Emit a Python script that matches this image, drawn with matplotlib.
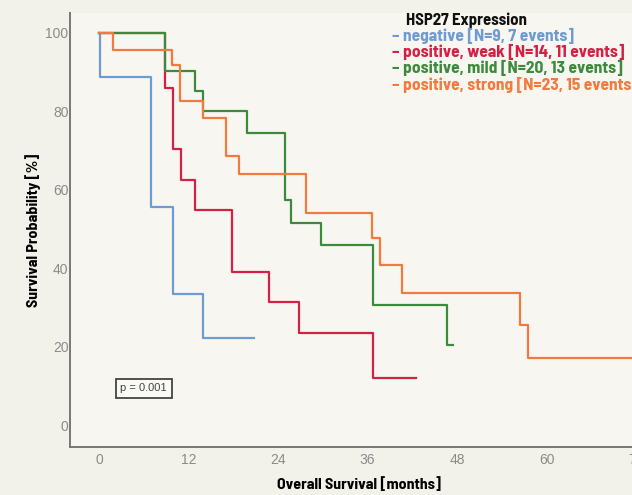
import matplotlib
matplotlib.use("Agg")
import matplotlib.pyplot as plt

# Kaplan-Meier steps (months, survival %)
neg_t = [0, 0.1, 7.0, 9.9, 13.9, 20.8]
neg_s = [100, 88.9, 55.6, 33.5, 22.3, 22.3]

weak_t = [0, 8.9, 9.9, 11.0, 12.9, 17.8, 22.8, 26.8, 36.7, 42.5]
weak_s = [100, 85.9, 70.4, 62.6, 54.8, 39.1, 31.5, 23.5, 12.0, 12.0]

mild_t = [0, 8.9, 12.9, 13.9, 19.8, 24.9, 25.8, 29.8, 36.7, 46.6, 47.5]
mild_s = [100, 90.2, 85.2, 80.2, 74.5, 57.5, 51.6, 45.9, 30.6, 20.4, 20.4]

strong_t = [0, 1.9, 9.8, 10.8, 13.9, 17.0, 18.8, 27.8, 36.6, 37.7, 40.6, 56.5, 57.5, 76]
strong_s = [100, 95.7, 91.8, 82.6, 78.2, 68.6, 64.1, 54.2, 47.6, 40.8, 33.8, 25.5, 17.0, 17.0]

labels = [
    "negative [N=9, 7 events]",
    "positive, weak [N=14, 11 events]",
    "positive, mild [N=20, 13 events]",
    "positive, strong [N=23, 15 events]",
]
colors = ["#6f9bd4", "#d61f45", "#3c8a3c", "#f27a3e"]
x_ticks = [0, 12, 24, 36, 48, 60, 72]
y_ticks = [0, 20, 40, 60, 80, 100]

cond = ["Barlow Semi Condensed", "DejaVu Sans"]
plain = ["Liberation Sans", "DejaVu Sans"]

fig = plt.figure(figsize=(6.32, 4.95), dpi=100, facecolor="#f3f2ea")
ax = fig.add_axes([70 / 632, 48 / 495, 580 / 632, 434 / 495])
ax.set_facecolor("#f7f6f0")

curves = [(neg_t, neg_s), (weak_t, weak_s), (mild_t, mild_s), (strong_t, strong_s)]
for (t, s), c in zip(curves, colors):
    ax.step(t, s, where="post", color=c, lw=1.6)

ax.set_xlim(-3.89, 73.86)
ax.set_ylim(-5.6, 105.1)
ax.set_xticks(x_ticks)
ax.set_yticks(y_ticks)
ax.tick_params(length=0, colors="#8a8a8a", labelsize=10)
ax.tick_params(axis="y", pad=1)
ax.tick_params(axis="x", pad=4)
for lab in ax.get_xticklabels() + ax.get_yticklabels():
    lab.set_family(plain)
for side in ["top", "right"]:
    ax.spines[side].set_visible(False)
for side in ["left", "bottom"]:
    ax.spines[side].set_color("#777777")
    ax.spines[side].set_linewidth(1.4)

fig.text(359 / 632, 1 - 485 / 495, "Overall Survival [months]", ha="center", va="center",
         fontsize=11.5, fontweight="bold", family=cond)
fig.text(33 / 632, 1 - 230 / 495, "Survival Probability [%]", ha="center", va="center",
         rotation=90, fontsize=11.5, fontweight="bold", family=cond)

# legend written as coloured text lines
fig.text(406 / 632, 1 - 20 / 495, "HSP27 Expression", ha="left", va="center",
         fontsize=12, fontweight="bold", family=cond, color="#111111")
for i, (lab, c) in enumerate(zip(labels, colors)):
    fig.text(392 / 632, 1 - (36 + 16.2 * i) / 495, "\u2013 " + lab, ha="left", va="center",
             fontsize=12.5, fontweight="bold", family=cond, color=c)

ax.text(6.0, 9.4, "p = 0.001", ha="center", va="center", fontsize=8, color="#444444",
        family=plain,
        bbox=dict(boxstyle="square,pad=0.4", fc="#f9f9f6", ec="#444444", lw=1.3))

fig.savefig("out.png", dpi=100, facecolor=fig.get_facecolor())
